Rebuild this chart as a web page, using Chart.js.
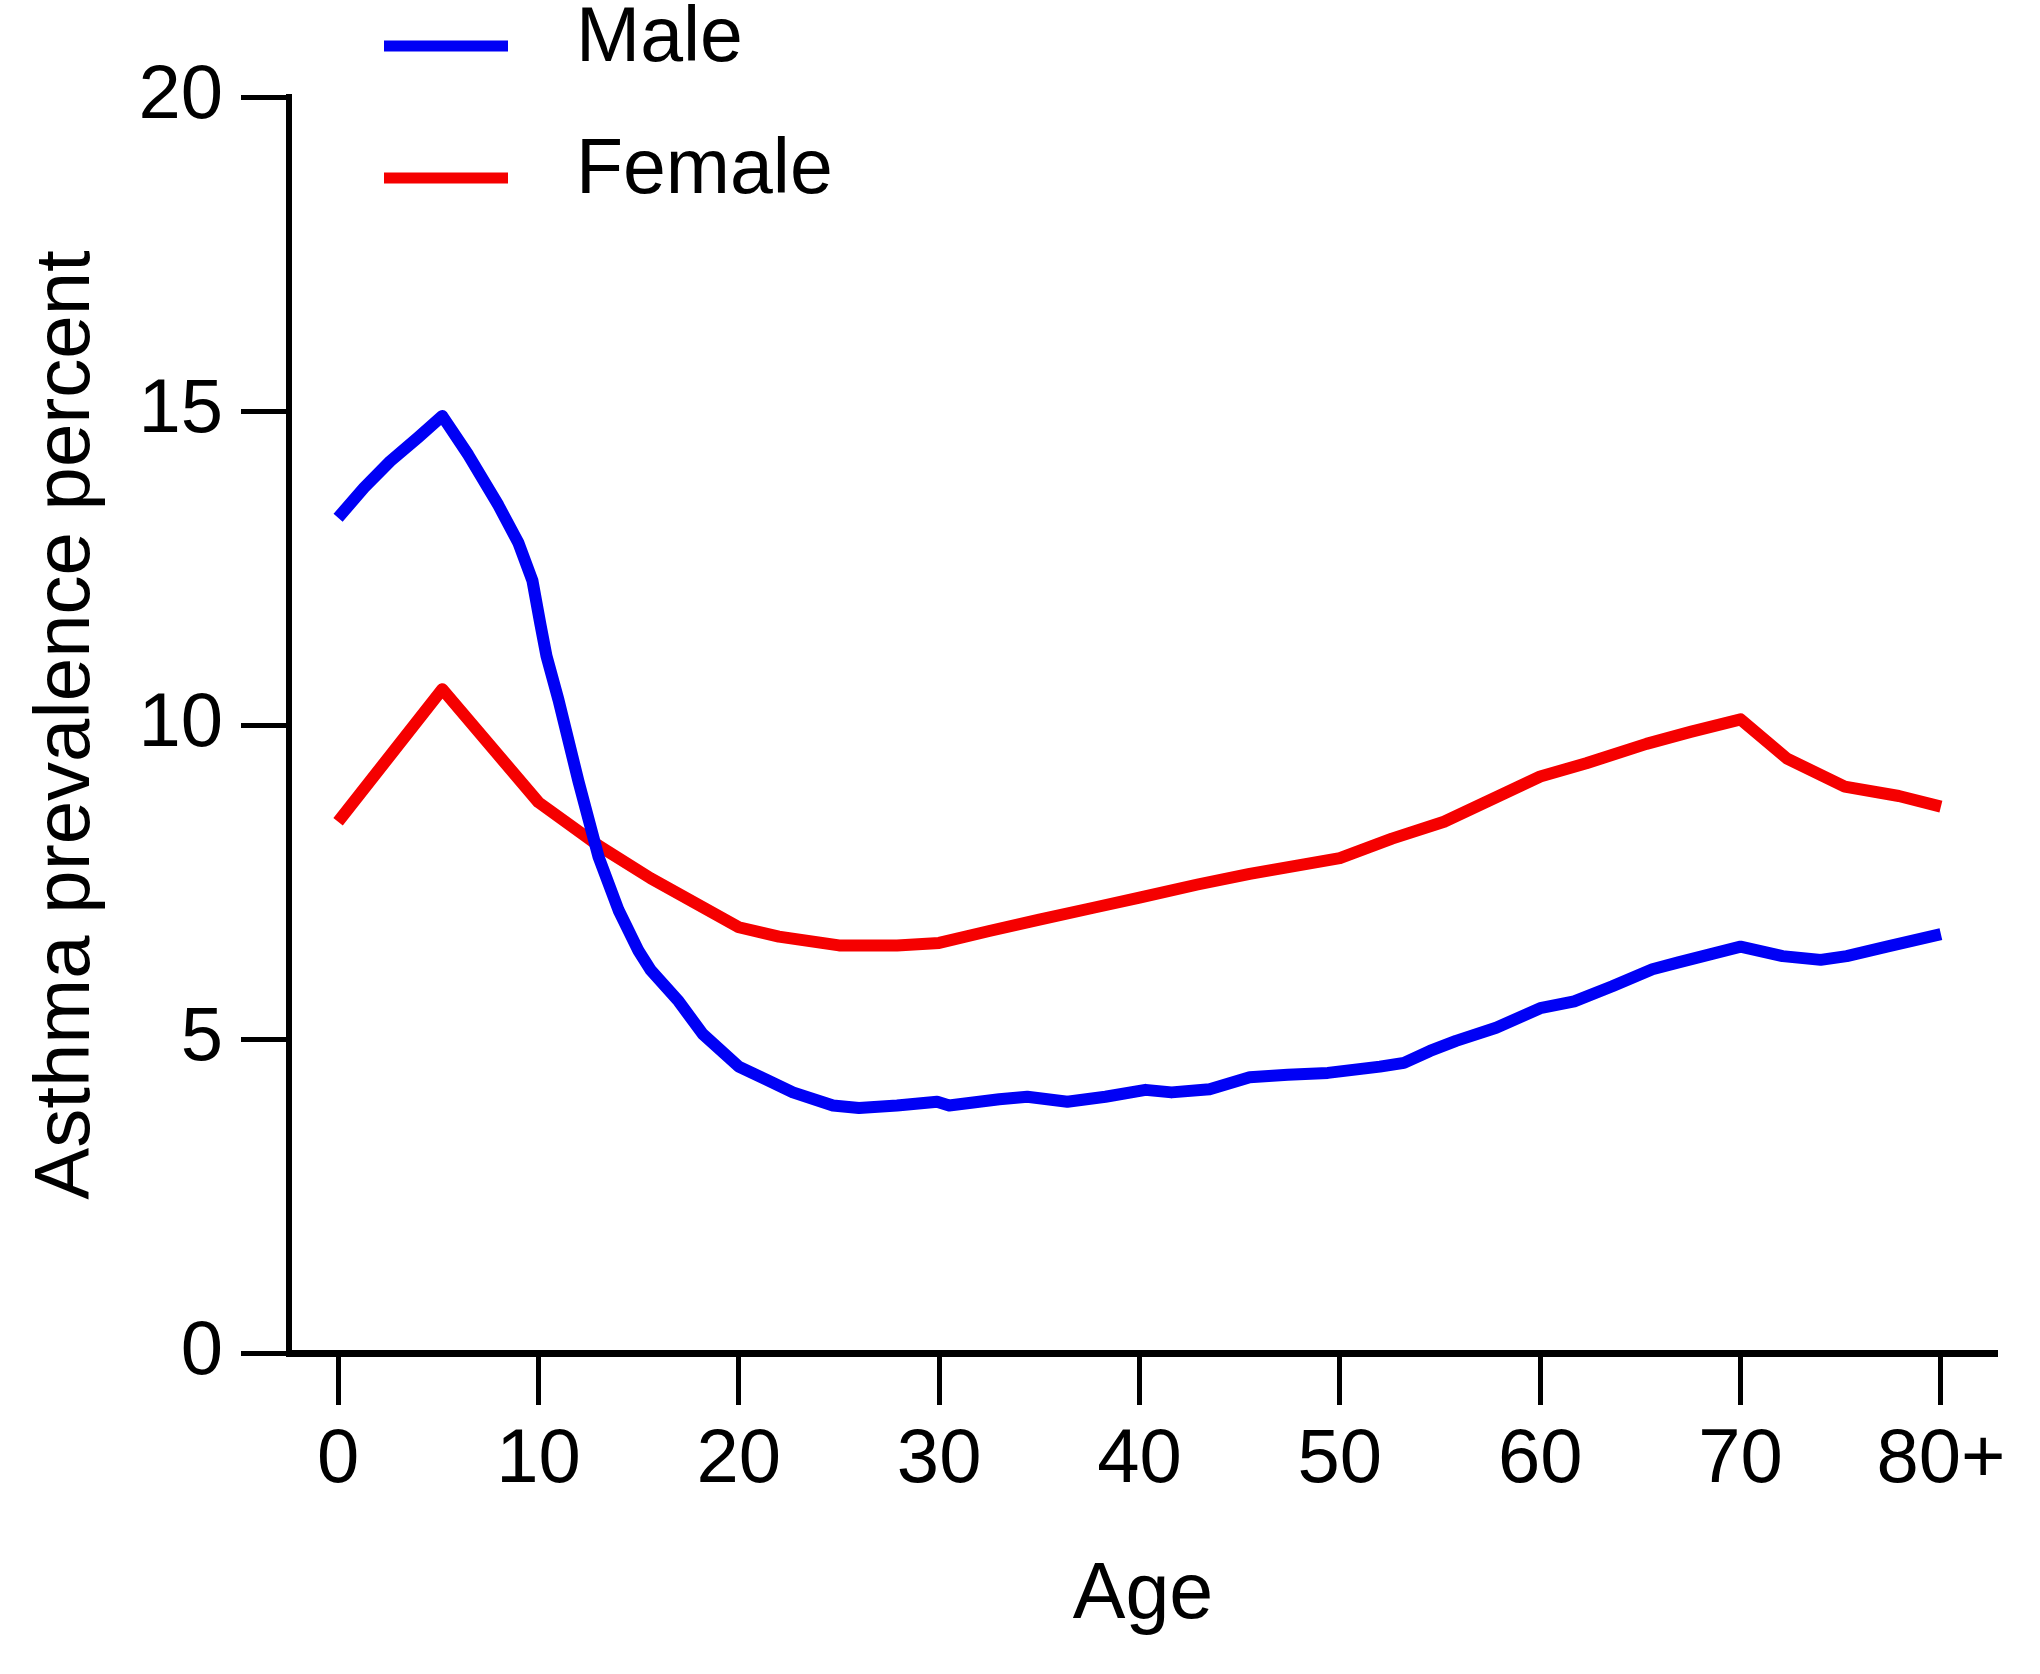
<!DOCTYPE html>
<html><head><meta charset="utf-8">
<script src="https://cdn.jsdelivr.net/npm/chart.js@4.4.1/dist/chart.umd.min.js"></script>
<style>html,body{margin:0;padding:0;background:#fff}#wrap{width:2040px;height:1674px}</style>
</head><body><div id="wrap"><canvas id="c" width="2040" height="1674"></canvas></div>
<script>
const ageTicks = [0, 10, 20, 30, 40, 50, 60, 70, 80];
const ageTickLabels = ['0', '10', '20', '30', '40', '50', '60', '70', '80+'];
const yTicks = [0, 5, 10, 15, 20];
const seriesNames = ['Male', 'Female'];

const maleAges = [0, 1.3, 2.6, 4, 5.2, 6.5, 8, 9, 9.7, 10.1, 10.4, 11, 12, 13, 14, 15, 15.6, 17, 18.2, 20, 21.4, 22.7, 24.7, 26, 27.9, 29.9, 30.5, 33, 34.4, 36.4, 38.3, 40.3, 41.6, 43.5, 45.5, 47.4, 49.4, 52, 53.2, 54.5, 55.8, 57.8, 60, 61.7, 63.6, 65.6, 66.9, 70, 72.1, 74, 75.3, 77.3, 80];
const maleValues = [13.3, 13.78, 14.2, 14.58, 14.92, 14.3, 13.5, 12.9, 12.3, 11.6, 11.1, 10.4, 9.1, 7.9, 7.05, 6.4, 6.1, 5.6, 5.08, 4.56, 4.35, 4.15, 3.94, 3.9, 3.94, 4.0, 3.94, 4.04, 4.08, 4.0, 4.08, 4.19, 4.15, 4.2, 4.39, 4.43, 4.46, 4.56, 4.62, 4.81, 4.97, 5.18, 5.49, 5.6, 5.84, 6.11, 6.22, 6.47, 6.32, 6.26, 6.32, 6.47, 6.67];

const femaleAges = [0, 5.2, 10, 13, 15.6, 20, 22, 25, 27.9, 30, 32.5, 35, 37.7, 40, 42.9, 45.5, 48, 50, 52.6, 55.2, 57.8, 60, 62.3, 65.3, 67.5, 70, 72.3, 75.2, 77.9, 80];
const femaleValues = [8.46, 10.57, 8.77, 8.08, 7.56, 6.78, 6.63, 6.49, 6.49, 6.53, 6.72, 6.9, 7.09, 7.25, 7.46, 7.63, 7.77, 7.88, 8.19, 8.46, 8.85, 9.18, 9.39, 9.7, 9.89, 10.09, 9.47, 9.02, 8.87, 8.7];

const FONT = 'Liberation Sans, Arial, Helvetica, sans-serif';
const MALE_COLOR = '#0000f5';
const FEMALE_COLOR = '#f50000';

function pts(xs, ys) { return xs.map((x, i) => ({ x: x, y: ys[i] })); }

const legendPlugin = {
  id: 'customLegend',
  afterDraw(chart) {
    const ctx = chart.ctx;
    const rows = [40, 172];
    ctx.save();
    chart.data.datasets.forEach((ds, i) => {
      const y = rows[i];
      ctx.strokeStyle = ds.borderColor;
      ctx.lineWidth = 11;
      ctx.lineCap = 'butt';
      ctx.beginPath();
      ctx.moveTo(384, y + 6);
      ctx.lineTo(508, y + 6);
      ctx.stroke();
      ctx.fillStyle = '#000';
      ctx.font = '77px ' + FONT;
      ctx.textBaseline = 'middle';
      ctx.textAlign = 'left';
      ctx.fillText(ds.label, 576, y);
    });
    ctx.restore();
  }
};

new Chart(document.getElementById('c'), {
  type: 'line',
  data: {
    datasets: [
      { label: seriesNames[0], data: pts(maleAges, maleValues), borderColor: MALE_COLOR, borderWidth: 12, pointRadius: 0, tension: 0, fill: false, borderJoinStyle: 'round', borderCapStyle: 'butt' },
      { label: seriesNames[1], data: pts(femaleAges, femaleValues), borderColor: FEMALE_COLOR, borderWidth: 12, pointRadius: 0, tension: 0, fill: false, borderJoinStyle: 'round', borderCapStyle: 'butt' }
    ]
  },
  options: {
    responsive: false,
    devicePixelRatio: 1,
    animation: false,
    layout: { padding: { left: 0, right: 43, top: 97, bottom: 0 } },
    plugins: { legend: { display: false }, tooltip: { enabled: false } },
    scales: {
      x: {
        type: 'linear',
        min: -2.45,
        max: 82.8,
        afterBuildTicks(scale) { scale.ticks = ageTicks.map(v => ({ value: v })); },
        afterFit(scale) { scale.height = 321; scale.paddingLeft = 0; scale.paddingRight = 0; },
        ticks: {
          autoSkip: false, maxRotation: 0, padding: 10, color: '#000',
          font: { family: FONT, size: 76 },
          callback(v) { const i = ageTicks.indexOf(v); return i >= 0 ? ageTickLabels[i] : ''; }
        },
        grid: { display: true, drawOnChartArea: false, drawTicks: true, tickLength: 52, tickWidth: 5, tickColor: '#000' },
        border: { display: true, color: '#000', width: 7 },
        title: { display: true, text: 'Age', color: '#000', font: { family: FONT, size: 79 }, padding: { top: 0, bottom: 30 } }
      },
      y: {
        type: 'linear',
        min: 0,
        max: 20,
        afterBuildTicks(scale) { scale.ticks = yTicks.map(v => ({ value: v })); },
        afterFit(scale) { scale.width = 289; scale.paddingTop = 0; scale.paddingBottom = 0; },
        ticks: { padding: 18, color: '#000', font: { family: FONT, size: 76 } },
        grid: { display: true, drawOnChartArea: false, drawTicks: true, tickLength: 48, tickWidth: 5, tickColor: '#000' },
        border: { display: true, color: '#000', width: 6 },
        title: { display: true, text: 'Asthma prevalence percent', color: '#000', font: { family: FONT, size: 78 }, padding: { top: 21, bottom: 0 } }
      }
    }
  },
  plugins: [legendPlugin]
});
</script>
</body></html>
